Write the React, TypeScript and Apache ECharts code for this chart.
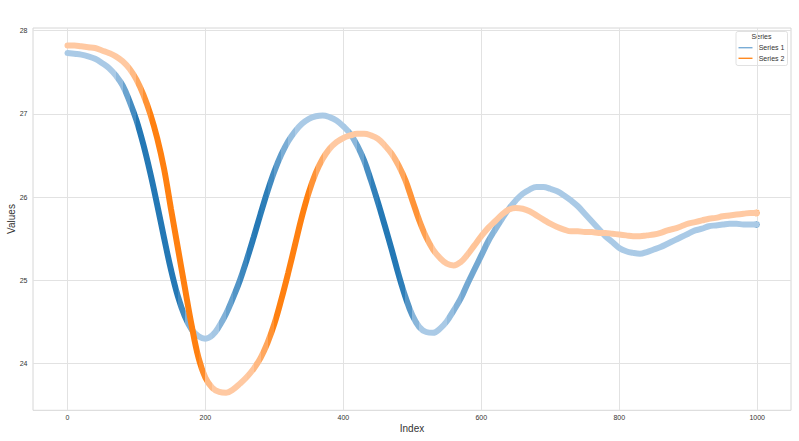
import React, { useEffect, useRef } from 'react';
import * as echarts from 'echarts';

const indexValues = [
  0, 10, 20, 30, 40, 50, 60, 70, 80, 90,
  100, 110, 120, 130, 140, 150, 160, 170, 180, 190,
  200, 210, 220, 230, 240, 250, 260, 270, 280, 290,
  300, 310, 320, 330, 340, 350, 360, 370, 380, 390,
  400, 410, 420, 430, 440, 450, 460, 470, 480, 490,
  500, 510, 520, 530, 540, 550, 560, 570, 580, 590,
  600, 610, 620, 630, 640, 650, 660, 670, 680, 690,
  700, 710, 720, 730, 740, 750, 760, 770, 780, 790,
  800, 810, 820, 830, 840, 850, 860, 870, 880, 890,
  900, 910, 920, 930, 940, 950, 960, 970, 980, 990, 999,
];

const series1Values = [
  27.73, 27.72, 27.71, 27.69, 27.66, 27.61, 27.55, 27.46, 27.34, 27.15,
  26.92, 26.63, 26.29, 25.91, 25.51, 25.13, 24.81, 24.57, 24.41, 24.33,
  24.30, 24.34, 24.45, 24.60, 24.79, 25.00, 25.25, 25.52, 25.80, 26.07,
  26.31, 26.51, 26.67, 26.79, 26.88, 26.94, 26.97, 26.98, 26.96, 26.92,
  26.85, 26.76, 26.62, 26.44, 26.20, 25.94, 25.66, 25.37, 25.07, 24.80,
  24.58, 24.44, 24.38, 24.37, 24.42, 24.51, 24.64, 24.78, 24.96, 25.13,
  25.30, 25.47, 25.61, 25.74, 25.86, 25.96, 26.04, 26.09, 26.12, 26.12,
  26.10, 26.07, 26.02, 25.96, 25.89, 25.80, 25.71, 25.62, 25.53, 25.46,
  25.39, 25.35, 25.33, 25.32, 25.34, 25.37, 25.40, 25.44, 25.48, 25.52,
  25.56, 25.60, 25.62, 25.65, 25.66, 25.67, 25.68, 25.68, 25.67, 25.67, 25.67,
];

const series2Values = [
  27.82, 27.82, 27.81, 27.80, 27.79, 27.76, 27.73, 27.69, 27.63, 27.54,
  27.41, 27.23, 27.00, 26.71, 26.34, 25.86, 25.39, 24.92, 24.46, 24.07,
  23.83, 23.71, 23.66, 23.65, 23.69, 23.76, 23.84, 23.94, 24.07, 24.25,
  24.48, 24.77, 25.09, 25.43, 25.77, 26.06, 26.29, 26.46, 26.58, 26.66,
  26.71, 26.74, 26.76, 26.76, 26.74, 26.70, 26.62, 26.52, 26.38, 26.20,
  25.96, 25.72, 25.52, 25.37, 25.27, 25.20, 25.18, 25.22, 25.31, 25.42,
  25.53, 25.63, 25.71, 25.79, 25.85, 25.87, 25.86, 25.83, 25.78, 25.73,
  25.68, 25.64, 25.61, 25.59, 25.59, 25.58, 25.58, 25.57, 25.57, 25.56,
  25.55, 25.54, 25.53, 25.53, 25.54, 25.55, 25.57, 25.60, 25.62, 25.65,
  25.68, 25.70, 25.72, 25.74, 25.75, 25.77, 25.78, 25.79, 25.80, 25.81, 25.81,
];

const seriesNames = ['Series 1', 'Series 2'];
const xTickValues = [0, 200, 400, 600, 800, 1000];
const yTickValues = [24, 25, 26, 27, 28];

const FONT = '"Liberation Sans", Arial, sans-serif';
const TEXT = '#333333';

const BLUE_DARK = [36, 120, 181];
const BLUE_LIGHT = [170, 202, 230];
const ORANGE_DARK = [255, 128, 16];
const ORANGE_LIGHT = [255, 201, 162];

function slopePieces(xs: number[], ys: number[], light: number[], dark: number[]) {
  const pxPerX = 0.6897;
  const pxPerY = 83.3;
  const seg: number[] = [];
  for (let k = 0; k < xs.length - 1; k++) {
    seg.push(Math.abs((ys[k + 1] - ys[k]) / (xs[k + 1] - xs[k])) * pxPerY / pxPerX);
  }
  const pieces: any[] = [];
  for (let k = 0; k < seg.length; k++) {
    const a = seg[Math.max(0, k - 1)];
    const b = seg[k];
    const c = seg[Math.min(seg.length - 1, k + 1)];
    const s = (a + 2 * b + c) / 4;
    const f = Math.min(1, Math.max(0, (s - 1.15) / 2.2));
    const col = light.map((l, j) => Math.round(l + (dark[j] - l) * f));
    const piece: any = { gte: xs[k], color: `rgb(${col.join(',')})` };
    if (k === seg.length - 1) piece.lte = xs[k + 1];
    else piece.lt = xs[k + 1];
    pieces.push(piece);
  }
  return pieces;
}

export default function App() {
  const ref = useRef<HTMLDivElement>(null);

  useEffect(() => {
    document.body.style.margin = '0';
    if (!ref.current) return;
    const chart = echarts.init(ref.current, undefined, { renderer: 'svg' });

    const d1 = indexValues.map((x, i) => [x, series1Values[i]]);
    const d2 = indexValues.map((x, i) => [x, series2Values[i]]);
    const last = indexValues.length - 1;

    const option: any = {
      animation: false,
      backgroundColor: '#ffffff',
      grid: {
        left: 33,
        right: 8,
        top: 28,
        bottom: 30.7,
        show: true,
        borderColor: '#d6d6d6',
        borderWidth: 1,
        containLabel: false,
      },
      xAxis: {
        type: 'value',
        min: -50,
        max: 1049,
        axisLine: { show: false },
        axisTick: { show: false, customValues: xTickValues },
        axisLabel: {
          customValues: xTickValues,
          formatter: (v: number) => String(v),
          fontSize: 7,
          color: TEXT,
          fontFamily: FONT,
          margin: 3.5,
        },
        splitLine: { show: true, lineStyle: { color: '#e2e2e2', width: 1 } },
      },
      yAxis: {
        type: 'value',
        min: 23.44,
        max: 28.03,
        axisLine: { show: false },
        axisTick: { show: false, customValues: yTickValues },
        axisLabel: {
          customValues: yTickValues,
          formatter: (v: number) => String(v),
          fontSize: 7,
          color: TEXT,
          fontFamily: FONT,
          margin: 5.5,
        },
        splitLine: { show: true, lineStyle: { color: '#e2e2e2', width: 1 } },
      },
      visualMap: [
        {
          type: 'piecewise',
          show: false,
          dimension: 0,
          seriesIndex: 0,
          pieces: slopePieces(indexValues, series1Values, BLUE_LIGHT, BLUE_DARK),
          outOfRange: { color: `rgb(${BLUE_LIGHT.join(',')})` },
        },
        {
          type: 'piecewise',
          show: false,
          dimension: 0,
          seriesIndex: 2,
          pieces: slopePieces(indexValues, series2Values, ORANGE_LIGHT, ORANGE_DARK),
          outOfRange: { color: `rgb(${ORANGE_LIGHT.join(',')})` },
        },
      ],
      series: [
        {
          name: seriesNames[0],
          type: 'line',
          data: d1,
          smooth: 0.4,
          showSymbol: false,
          lineStyle: { width: 6, cap: 'round' },
        },
        {
          name: seriesNames[0] + ' end',
          type: 'scatter',
          data: [d1[last]],
          symbolSize: 7,
          itemStyle: { color: '#1f77b4', borderColor: '#ffffff', borderWidth: 0.8, opacity: 1 },
        },
        {
          name: seriesNames[1],
          type: 'line',
          data: d2,
          smooth: 0.4,
          showSymbol: false,
          lineStyle: { width: 6, cap: 'round' },
        },
        {
          name: seriesNames[1] + ' end',
          type: 'scatter',
          data: [d2[last]],
          symbolSize: 7,
          itemStyle: { color: '#ff7f0e', borderColor: '#ffffff', borderWidth: 0.8, opacity: 1 },
        },
      ],
      graphic: [
        {
          type: 'text',
          x: 412,
          y: 428,
          style: {
            text: 'Index',
            fontSize: 10,
            fontFamily: FONT,
            fill: TEXT,
            align: 'center',
            verticalAlign: 'middle',
          },
        },
        {
          type: 'text',
          x: 11.5,
          y: 219,
          rotation: Math.PI / 2,
          style: {
            text: 'Values',
            fontSize: 10,
            fontFamily: FONT,
            fill: TEXT,
            align: 'center',
            verticalAlign: 'middle',
          },
        },
        {
          type: 'group',
          x: 736,
          y: 31.5,
          children: [
            {
              type: 'rect',
              shape: { x: 0, y: 0, width: 51.5, height: 34, r: 2 },
              style: { fill: '#ffffff', stroke: '#d9d9d9', lineWidth: 0.8 },
            },
            {
              type: 'text',
              x: 25.5,
              y: 5.3,
              style: {
                text: 'Series',
                fontSize: 7,
                fontFamily: FONT,
                fill: TEXT,
                align: 'center',
                verticalAlign: 'middle',
              },
            },
            {
              type: 'line',
              shape: { x1: 2.5, y1: 16.2, x2: 16.5, y2: 16.2 },
              style: { stroke: '#7aadd6', lineWidth: 1.4 },
            },
            {
              type: 'text',
              x: 22.7,
              y: 16.2,
              style: {
                text: seriesNames[0],
                fontSize: 7,
                fontFamily: FONT,
                fill: TEXT,
                align: 'left',
                verticalAlign: 'middle',
              },
            },
            {
              type: 'line',
              shape: { x1: 2.5, y1: 26.8, x2: 16.5, y2: 26.8 },
              style: { stroke: '#ff8a22', lineWidth: 1.4 },
            },
            {
              type: 'text',
              x: 22.7,
              y: 26.8,
              style: {
                text: seriesNames[1],
                fontSize: 7,
                fontFamily: FONT,
                fill: TEXT,
                align: 'left',
                verticalAlign: 'middle',
              },
            },
          ],
        },
      ],
    };

    chart.setOption(option);
    return () => {
      chart.dispose();
    };
  }, []);

  return (
    <div
      ref={ref}
      style={{ position: 'fixed', left: 0, top: 0, width: 799, height: 441, background: '#fff' }}
    />
  );
}
